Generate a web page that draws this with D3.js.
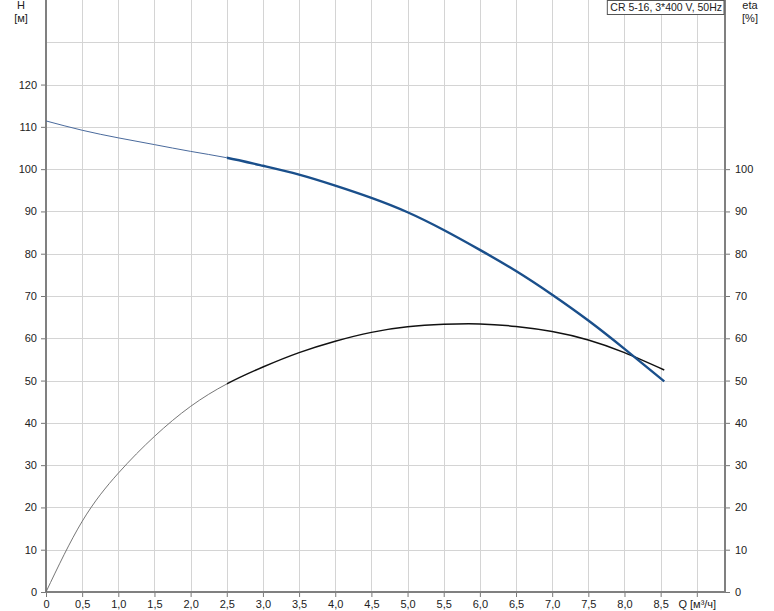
<!DOCTYPE html>
<html>
<head>
<meta charset="utf-8">
<script src="https://cdn.jsdelivr.net/npm/d3@7"></script>
<style>
  body { margin: 0; background: #fff; }
  svg { display: block; font-family: "Liberation Sans", Arial, sans-serif; }
</style>
</head>
<body>
<svg width="774" height="611"></svg>
<script>
const width = 774;
const height = 611;
const margin = { top: 0, right: 49, bottom: 19, left: 46 };

// flow Q [m3/h]
const flow = [0, 0.5, 1.0, 1.5, 2.0, 2.5, 3.0, 3.5, 4.0, 4.5, 5.0, 5.5, 6.0, 6.5, 7.0, 7.5, 8.0, 8.55];
// head H [m]
const head = [111.4, 109.2, 107.4, 105.8, 104.2, 102.7, 100.8, 98.7, 96.1, 93.2, 89.8, 85.6, 80.9, 75.9, 70.3, 64.2, 57.5, 49.8];
// efficiency eta [%]
const eta = [0, 16.7, 28.1, 36.8, 43.9, 49.2, 53.2, 56.6, 59.3, 61.4, 62.7, 63.3, 63.4, 62.8, 61.6, 59.6, 56.6, 52.5];

const qTicks = [0, 0.5, 1.0, 1.5, 2.0, 2.5, 3.0, 3.5, 4.0, 4.5, 5.0, 5.5, 6.0, 6.5, 7.0, 7.5, 8.0, 8.5];
const hTicks = [0, 10, 20, 30, 40, 50, 60, 70, 80, 90, 100, 110, 120];
const etaTicks = [0, 10, 20, 30, 40, 50, 60, 70, 80, 90, 100];
const title = "CR 5-16, 3*400 V, 50Hz";
const dutyStart = 2.5;

const svg = d3.select("svg");

const x = d3.scaleLinear().domain([0, 9.39]).range([margin.left, width - margin.right]);
const y = d3.scaleLinear().domain([0, 140]).range([height - margin.bottom, margin.top]);

// grid
const grid = svg.append("g").attr("stroke", "#d4d4d4").attr("stroke-width", 1);
grid.selectAll(".gx").data(d3.range(1, 19).map(i => i * 0.5)).enter().append("line")
  .attr("x1", d => Math.round(x(d)) + 0.5).attr("x2", d => Math.round(x(d)) + 0.5)
  .attr("y1", y(140)).attr("y2", y(0));
grid.selectAll(".gy").data(d3.range(1, 14).map(i => i * 10)).enter().append("line")
  .attr("y1", d => Math.round(y(d)) + 0.5).attr("y2", d => Math.round(y(d)) + 0.5)
  .attr("x1", x(0)).attr("x2", x(9.39));

// axes
const fmt = d => d === 0 ? "0" : d3.format(".1f")(d).replace(".", ",");
const xAxis = d3.axisBottom(x).tickValues(qTicks.concat([9.0])).tickSize(5).tickPadding(3)
  .tickFormat(d => d === 9.0 ? "Q [м³/ч]" : fmt(d));
const yAxis = d3.axisLeft(y).tickValues(hTicks).tickSize(5).tickPadding(4);
const y2Axis = d3.axisRight(y).tickValues(etaTicks).tickSize(5).tickPadding(5);

function styleAxis(g) {
  g.select(".domain").remove();
  g.selectAll(".tick line").attr("stroke", "#777");
  g.selectAll("text").attr("fill", "#222").style("font-size", "11px");
}

svg.append("g").attr("transform", `translate(0,${y(0)})`).call(xAxis).call(styleAxis);
svg.append("g").attr("transform", `translate(${x(0)},0)`).call(yAxis).call(styleAxis);
svg.append("g").attr("transform", `translate(${x(9.39)},0)`).call(y2Axis).call(styleAxis)
  .selectAll("text").attr("text-anchor", "start");

// frame lines
const frame = svg.append("g").attr("stroke", "#808080").attr("stroke-width", 2);
frame.append("line").attr("x1", x(0)).attr("x2", x(0)).attr("y1", y(140)).attr("y2", y(0) + 1);
frame.append("line").attr("x1", x(0) - 1).attr("x2", x(9.39) + 1).attr("y1", y(0)).attr("y2", y(0));
frame.append("line").attr("x1", x(9.39)).attr("x2", x(9.39)).attr("y1", y(140)).attr("y2", y(0) + 1);

// clip regions: thin part left of duty range, thick part inside it
const defs = svg.append("defs");
defs.append("clipPath").attr("id", "clipThin").append("rect")
  .attr("x", 0).attr("y", 0).attr("width", x(dutyStart)).attr("height", height);
defs.append("clipPath").attr("id", "clipThick").append("rect")
  .attr("x", x(dutyStart)).attr("y", 0).attr("width", width).attr("height", height);

// curves
const pts = (vals) => flow.map((q, i) => ({ q, v: vals[i] }));
const line = d3.line().x(d => x(d.q)).y(d => y(d.v)).curve(d3.curveNatural);

function drawCurve(vals, thinColor, thickColor, thinW, thickW) {
  const all = pts(vals);
  svg.append("path").datum(all).attr("clip-path", "url(#clipThin)")
    .attr("fill", "none").attr("stroke", thinColor).attr("stroke-width", thinW).attr("d", line);
  svg.append("path").datum(all).attr("clip-path", "url(#clipThick)")
    .attr("fill", "none").attr("stroke", thickColor).attr("stroke-width", thickW).attr("d", line);
}

drawCurve(eta, "#666", "#111", 0.9, 1.5);
drawCurve(head, "#4a6a9c", "#1a4f8b", 1, 2.4);

// axis titles
const label = svg.append("g").attr("fill", "#222").style("font-size", "11px").attr("text-anchor", "middle");
label.append("text").attr("x", 21).attr("y", 9).text("H");
label.append("text").attr("x", 21).attr("y", 22).text("[м]");
label.append("text").attr("x", 750).attr("y", 9).text("eta");
label.append("text").attr("x", 750).attr("y", 22).text("[%]");

// title box
const tb = svg.append("g");
const tx = tb.append("text").attr("x", 722).attr("y", 11).attr("fill", "#222")
  .attr("text-anchor", "end").style("font-size", "10.5px").text(title);
const bb = tx.node().getBBox();
tb.insert("rect", "text").attr("x", bb.x - 3).attr("y", 0.5).attr("width", x(9.39) - bb.x + 2)
  .attr("height", 14).attr("fill", "#fff").attr("stroke", "#555").attr("stroke-width", 1);
</script>
</body>
</html>
